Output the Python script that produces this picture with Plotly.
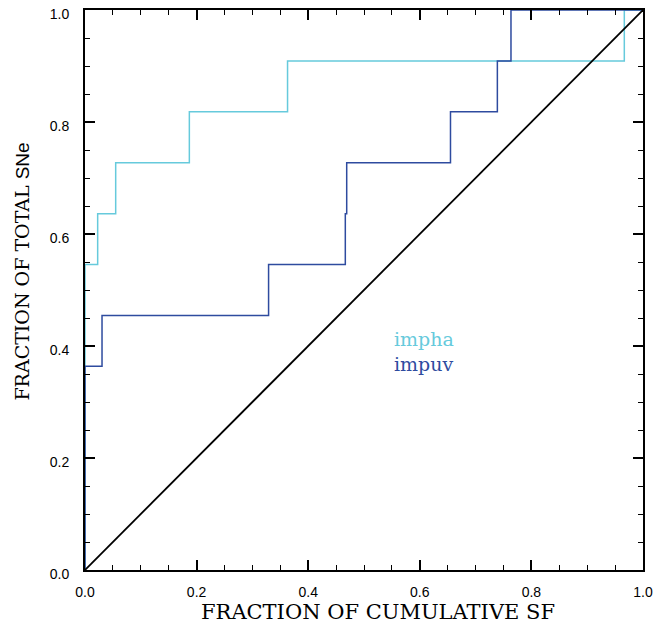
import plotly.graph_objects as go

# impha cumulative step data (11 SNe)
impha_x = [0.0, 0.0, 0.0227, 0.055, 0.187, 0.363, 0.9665, 1.0]
impha_y = [0.0, 6/11, 7/11, 8/11, 9/11, 10/11, 1.0, 1.0]

# impuv cumulative step data
impuv_x = [0.0, 0.0, 0.0305, 0.329, 0.4665, 0.469, 0.655, 0.739, 0.7634, 1.0]
impuv_y = [0.0, 4/11, 5/11, 6/11, 7/11, 8/11, 9/11, 10/11, 1.0, 1.0]

diag_x = [0.0, 1.0]
diag_y = [0.0, 1.0]

tick_vals = [0.0, 0.2, 0.4, 0.6, 0.8, 1.0]
tick_text = ["0.0", "0.2", "0.4", "0.6", "0.8", "1.0"]

cyan = "#66CADC"
blue = "#2E4B9F"
serif = "DejaVu Serif"

fig = go.Figure()
fig.add_trace(go.Scatter(x=impha_x, y=impha_y, mode="lines", line=dict(color=cyan, width=1.5, shape="hv"),
                         name="impha", showlegend=False))
fig.add_trace(go.Scatter(x=impuv_x, y=impuv_y, mode="lines", line=dict(color=blue, width=1.5, shape="hv"),
                         name="impuv", showlegend=False))
fig.add_trace(go.Scatter(x=diag_x, y=diag_y, mode="lines", line=dict(color="black", width=1.8),
                         showlegend=False))

fig.add_annotation(x=0.551, y=0.412, xref="x", yref="y", text="impha", showarrow=False, xanchor="left",
                   font=dict(family=serif, size=19, color=cyan))
fig.add_annotation(x=0.551, y=0.368, xref="x", yref="y", text="impuv", showarrow=False, xanchor="left",
                   font=dict(family=serif, size=19, color=blue))

# axis titles
fig.add_annotation(x=0.525, y=-0.075, xref="paper", yref="paper", text="FRACTION OF CUMULATIVE SF",
                   showarrow=False, xanchor="center", yanchor="middle",
                   font=dict(family=serif, size=21, color="black"))
fig.add_annotation(x=-0.112, y=0.532, xref="paper", yref="paper",
                   text="FRACTION OF TOTAL <span style='font-family:Liberation Sans'>SNe</span>",
                   showarrow=False, xanchor="center", yanchor="middle", textangle=-90,
                   font=dict(family=serif, size=19, color="black"))

axis_common = dict(
    range=[0, 1], tickvals=tick_vals, ticktext=tick_text, ticks="inside", ticklen=10, tickwidth=1.5,
    tickcolor="black", showline=True, linecolor="black", linewidth=2, mirror="ticks", showgrid=False,
    zeroline=False, automargin=False, tickfont=dict(family="Liberation Sans", size=14, color="black"),
    minor=dict(dtick=0.05, ticks="inside", ticklen=5, tickwidth=1.2, tickcolor="black", showgrid=False),
)

fig.update_layout(
    width=670, height=624,
    margin=dict(l=85, r=27, t=10, b=54),
    plot_bgcolor="white", paper_bgcolor="white",
    xaxis=dict(**axis_common, ticklabelstandoff=8),
    yaxis=dict(**axis_common, ticklabelstandoff=11, ticklabelshift=4),
)

fig.write_html("out.html")
